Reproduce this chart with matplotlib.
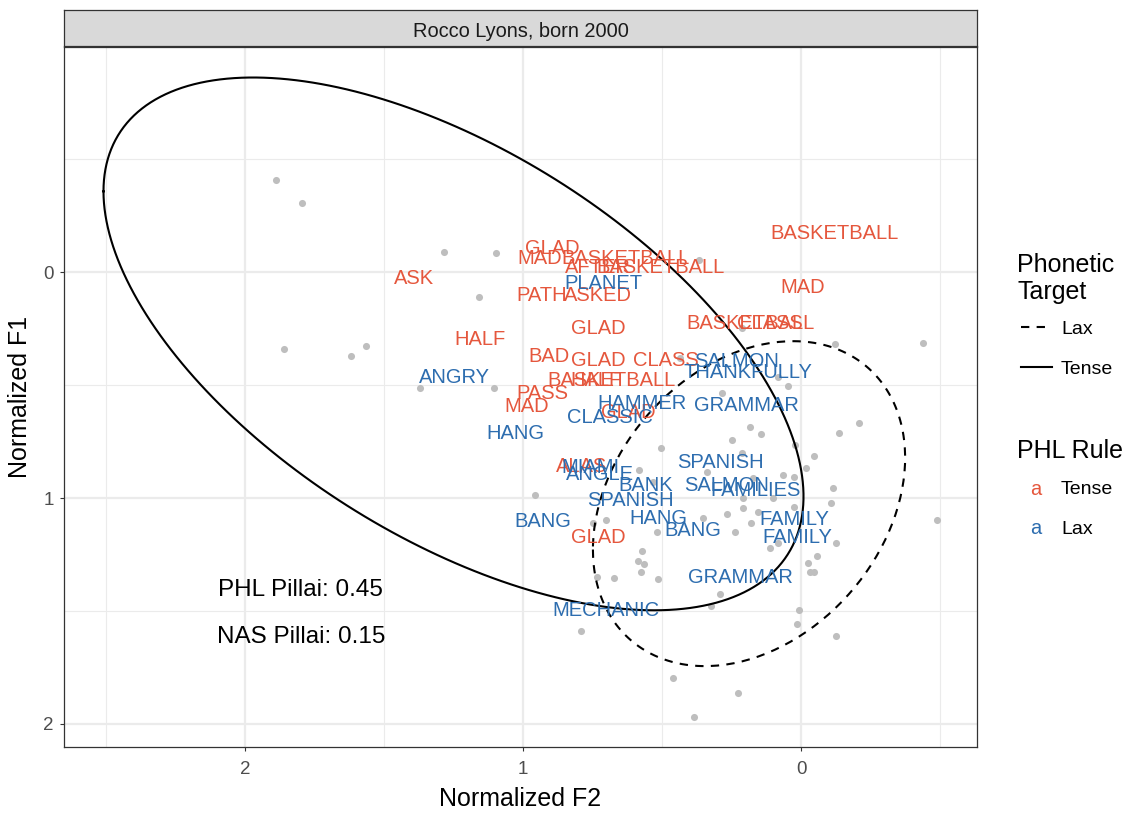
import numpy as np
import matplotlib.pyplot as plt
from matplotlib.lines import Line2D

plt.rcParams['font.family'] = ['Liberation Sans', 'DejaVu Sans']

W, H = 1133, 814

# unlabelled tokens (normalized F2, normalized F1)
token_f2 = [1.888, 1.795, 1.284, 1.097, 1.158, 1.860, 1.619, 1.565, 1.371, 1.104,
            0.367, 0.212, -0.122, -0.439, 0.435, 0.083, 0.047, 0.284, 0.183, 0.144,
            -0.137, -0.209, 0.248, 0.504, 0.022, -0.047, -0.018, 0.583, 0.338, 0.065,
            0.025, -0.115, 0.957, 0.209, 0.101, -0.108, 0.209, 0.266, 0.155, 0.025,
            0.353, 0.748, 0.701, 0.180, -0.489, 0.518, 0.237, -0.126, 0.112, 0.083,
            0.572, 0.586, 0.565, 0.576, 0.734, 0.673, 0.514, -0.058, -0.025, -0.032,
            -0.047, 0.291, 0.324, 0.007, 0.014, -0.126, 0.791, 0.460, 0.227, 0.385,
            0.532, 0.212, 0.173]
token_f1 = [-0.407, -0.305, -0.088, -0.084, 0.111, 0.341, 0.372, 0.327, 0.513, 0.513,
            -0.053, 0.248, 0.319, 0.314, 0.381, 0.465, 0.504, 0.535, 0.686, 0.717,
            0.712, 0.668, 0.743, 0.779, 0.765, 0.814, 0.867, 0.876, 0.885, 0.898,
            0.907, 0.956, 0.987, 1.000, 1.000, 1.022, 1.044, 1.071, 1.062, 1.040,
            1.088, 1.111, 1.097, 1.111, 1.097, 1.150, 1.150, 1.199, 1.221, 1.199,
            1.235, 1.279, 1.292, 1.327, 1.350, 1.354, 1.358, 1.257, 1.288, 1.327,
            1.327, 1.425, 1.478, 1.496, 1.558, 1.611, 1.588, 1.796, 1.863, 1.969,
            0.929, 0.801, 0.912]

# labelled tokens, PHL rule = Tense
tense_words = ['ASK', 'GLAD', 'MAD', 'BASKETBALL', 'AFTER', 'BASKETBALL', 'PATH', 'ASKED',
               'GLAD', 'HALF', 'BAD', 'GLAD', 'CLASS', 'BASKETBALL', 'HALF', 'PASS', 'MAD',
               'GLAD', 'BASKETBALL', 'MAD', 'BASKETBALL', 'CLASS', 'ALAS', 'GLAD']
tense_f2 = [1.392, 0.896, 0.939, 0.633, 0.730, 0.507, 0.932, 0.730,
            0.730, 1.155, 0.906, 0.730, 0.486, 0.680, 0.737, 0.932, 0.986,
            0.622, -0.119, -0.007, 0.180, 0.112, 0.791, 0.730]
tense_f1 = [0.018, -0.111, -0.071, -0.071, -0.027, -0.027, 0.097, 0.097,
            0.239, 0.288, 0.363, 0.381, 0.381, 0.469, 0.469, 0.527, 0.584,
            0.611, -0.181, 0.058, 0.217, 0.217, 0.850, 1.164]

# labelled tokens, PHL rule = Lax
lax_words = ['PLANET', 'ANGRY', 'HAMMER', 'GRAMMAR', 'CLASSIC', 'HANG', 'SALMON', 'THANKFULLY',
             'MIAMI', 'ANGLE', 'SPANISH', 'BANK', 'SALMON', 'FAMILIES', 'SPANISH', 'BANG',
             'HANG', 'BANG', 'FAMILY', 'FAMILY', 'GRAMMAR', 'MECHANIC']
lax_f2 = [0.709, 1.245, 0.572, 0.198, 0.687, 1.029, 0.230, 0.191,
          0.759, 0.723, 0.291, 0.558, 0.266, 0.165, 0.612, 0.928,
          0.514, 0.388, 0.025, 0.014, 0.219, 0.701]
lax_f1 = [0.040, 0.456, 0.571, 0.580, 0.637, 0.704, 0.389, 0.434,
          0.854, 0.885, 0.836, 0.938, 0.938, 0.956, 1.004, 1.093,
          1.080, 1.133, 1.088, 1.164, 1.345, 1.491]

# 95% ellipses per phonetic target: centre and shape matrix
tense_center = [1.250, 0.318]
tense_shape = [[1.585, -0.850], [-0.850, 1.390]]
lax_center = [0.187, 1.025]
lax_shape = [[0.3153, 0.114], [0.114, 0.517]]

pillai_text = ['PHL Pillai: 0.45', 'NAS Pillai: 0.15']
pillai_f2 = [1.799, 1.799]
pillai_f1 = [1.398, 1.602]

red = '#E5573D'
blue = '#2D6DAF'


def ellipse_path(center, shape, n=240):
    t = np.linspace(0, 2 * np.pi, n)
    L = np.linalg.cholesky(np.array(shape))
    pts = np.array(center)[:, None] + L @ np.vstack([np.cos(t), np.sin(t)])
    return pts[0], pts[1]


def fx(px):
    return px / W


def fy(py):
    return 1 - py / H


fig = plt.figure(figsize=(W / 100, H / 100), dpi=100)
ax = fig.add_axes([fx(64), fy(747), (977 - 64) / W, (747 - 47) / H])

ax.set_xlim(2.651, -0.633)
ax.set_ylim(2.102, -0.996)
ax.set_xticks([2, 1, 0])
ax.set_yticks([0, 1, 2])
ax.set_xticks([2.5, 1.5, 0.5, -0.5], minor=True)
ax.set_yticks([-0.5, 0.5, 1.5], minor=True)
ax.grid(True, which='major', color='#EBEBEB', linewidth=1.6, zorder=0)
ax.grid(True, which='minor', color='#EBEBEB', linewidth=0.8, zorder=0)
ax.set_axisbelow(True)
ax.tick_params(which='minor', length=0)
ax.tick_params(which='major', length=3.2, width=0.8, color='#333333',
               labelcolor='#4D4D4D', labelsize=13.5)
ax.tick_params(axis='x', which='major', pad=7)
ax.tick_params(axis='y', which='major', pad=4)
for s in ax.spines.values():
    s.set_color('#333333')
    s.set_linewidth(0.9)

ax.scatter(token_f2, token_f1, s=26, color='#BEBEBE', linewidths=0, zorder=2)

ex, ey = ellipse_path(tense_center, tense_shape)
ax.plot(ex, ey, color='black', lw=1.5, zorder=3)
ex, ey = ellipse_path(lax_center, lax_shape)
ax.plot(ex, ey, color='black', lw=1.5, ls=(0, (4, 3.5)), zorder=3)

for w, x, y in zip(tense_words, tense_f2, tense_f1):
    ax.text(x, y, w, color=red, fontsize=14.5, ha='center', va='center_baseline', zorder=4)
for w, x, y in zip(lax_words, lax_f2, lax_f1):
    ax.text(x, y, w, color=blue, fontsize=14.5, ha='center', va='center_baseline', zorder=4)

for t, x, y in zip(pillai_text, pillai_f2, pillai_f1):
    ax.text(x, y, t, color='black', fontsize=17.5, ha='center', va='center_baseline', zorder=4)

ax.set_xlabel('Normalized F2', fontsize=18, color='black', labelpad=6)
ax.set_ylabel('Normalized F1', fontsize=18, color='black', labelpad=8)

# facet strip
strip = fig.add_axes([fx(64), fy(46), (977 - 64) / W, 36 / H])
strip.set_facecolor('#D9D9D9')
strip.set_xticks([])
strip.set_yticks([])
for s in strip.spines.values():
    s.set_color('#333333')
    s.set_linewidth(0.9)
strip.text(0.5, 0.47, 'Rocco Lyons, born 2000', color='#1A1A1A', fontsize=14.4,
           ha='center', va='center_baseline', transform=strip.transAxes)

# legend: phonetic target
fig.text(fx(1017), fy(262), 'Phonetic', fontsize=18, ha='left', va='center_baseline')
fig.text(fx(1017), fy(289), 'Target', fontsize=18, ha='left', va='center_baseline')
fig.add_artist(Line2D([fx(1021), fx(1051)], [fy(327), fy(327)], color='black',
                      lw=1.5, ls=(0, (4, 3.5))))
fig.text(fx(1061), fy(327), 'Lax', fontsize=14, ha='left', va='center_baseline')
fig.add_artist(Line2D([fx(1021), fx(1052)], [fy(367), fy(367)], color='black', lw=1.5))
fig.text(fx(1061), fy(367), 'Tense', fontsize=14, ha='left', va='center_baseline')

# legend: PHL rule
fig.text(fx(1017), fy(448), 'PHL Rule', fontsize=18, ha='left', va='center_baseline')
fig.text(fx(1036), fy(487), 'a', color=red, fontsize=14.5, ha='center', va='center_baseline')
fig.text(fx(1061), fy(487), 'Tense', fontsize=14, ha='left', va='center_baseline')
fig.text(fx(1036), fy(527), 'a', color=blue, fontsize=14.5, ha='center', va='center_baseline')
fig.text(fx(1061), fy(527), 'Lax', fontsize=14, ha='left', va='center_baseline')

fig.savefig('out.png', dpi=100, facecolor='white')
